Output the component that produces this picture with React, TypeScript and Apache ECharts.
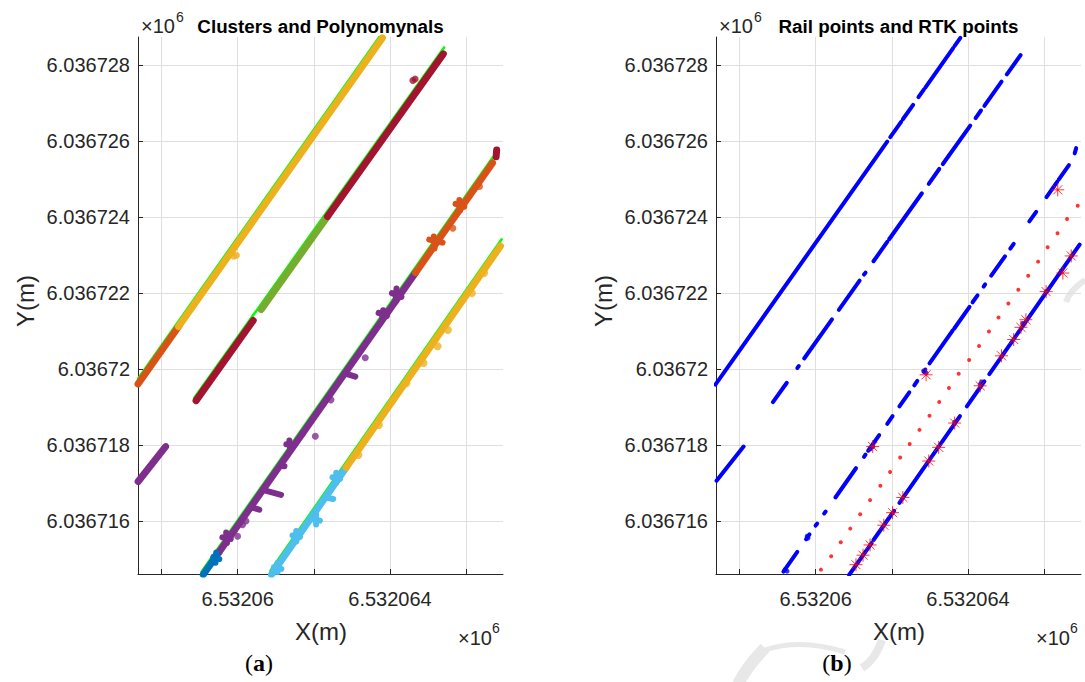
import React, { useEffect, useRef } from "react";
import * as echarts from "echarts";

// Coordinate bases (metres); all data below are offsets from these
const X0 = 6532000;
const Y0 = 6036700;

const X_MIN = 57.386;
const X_MAX = 66.966;
const Y_MIN = 14.605;
const Y_MAX = 28.745;
const X_TICKS = [58, 60, 62, 64, 66];
const X_LABELS = [60, 64];
const Y_TICKS = [16, 18, 20, 22, 24, 26, 28];

// ---------- Panel (a): clusters ----------
const clusterA1 = [[57.386, 19.61], [58.47, 21.15]]; // orange
const clusterA2 = [[58.45, 21.12], [63.8, 28.72]]; // yellow
const clusterS = [[57.39, 17.04], [58.11, 17.96]]; // purple short
const clusterB1 = [[58.91, 19.17], [60.41, 21.28]]; // maroon
const clusterB2 = [[60.62, 21.57], [62.36, 24.02]]; // olive
const clusterB3 = [[62.36, 24.02], [65.4, 28.3]]; // maroon
const clusterC1 = [[59.1, 14.59], [59.52, 15.19]]; // blue
const clusterC2 = [[59.52, 15.19], [64.67, 22.54]]; // purple
const clusterC3 = [[64.67, 22.54], [66.69, 25.43]]; // orange
const clusterC4 = [[66.785, 25.59], [66.8, 25.77]]; // maroon blob
const clusterD1 = [[60.89, 14.59], [62.85, 17.41]]; // light blue
const clusterD2 = [[62.85, 17.41], [66.9, 23.24]]; // yellow

// short strokes (arms of the cross / T shaped outliers)
const armsPurple = [
  [[59.6, 15.57], [59.82, 15.53]],
  [[59.7, 15.7], [59.72, 15.42]],
  [[60.36, 16.36], [60.57, 16.3]],
  [[60.66, 16.82], [61.14, 16.69]],
  [[61.11, 17.46], [61.23, 17.44]],
  [[61.28, 18.02], [61.46, 18.0]],
  [[61.36, 18.12], [61.38, 17.9]],
  [[62.81, 19.89], [63.09, 19.8]],
  [[63.7, 21.48], [63.92, 21.4]],
  [[63.82, 21.55], [63.8, 21.32]],
  [[64.05, 22.0], [64.3, 21.9]],
  [[64.17, 22.12], [64.15, 21.78]],
];
const armsOrangeC = [
  [[65.03, 23.41], [65.38, 23.33]],
  [[65.15, 23.49], [65.17, 23.18]],
  [[65.72, 24.35], [65.95, 24.28]],
  [[65.82, 24.45], [65.84, 24.18]],
];
const armsCyan = [
  [[60.95, 14.78], [61.15, 14.74]],
  [[61.05, 14.9], [61.05, 14.66]],
  [[61.44, 15.62], [61.64, 15.58]],
  [[61.54, 15.74], [61.54, 15.46]],
  [[61.96, 16.05], [62.16, 16.01]],
  [[62.06, 16.17], [62.06, 15.91]],
  [[62.31, 16.62], [62.51, 16.58]],
  [[62.49, 17.15], [62.69, 17.11]],
  [[62.59, 17.27], [62.59, 17.01]],
];
const armsBlue = [
  [[59.36, 15.05], [59.52, 15.0]],
  [[59.44, 15.17], [59.42, 14.9]],
];

const bumpsYellowA = [[59.9, 22.97], [59.97, 23.0]];
const bumpsMaroon = [[64.66, 27.64], [64.6, 27.6], [62.72, 24.54]];
const bumpsPurple = [
  [60.13, 15.9], [60.22, 16.0], [62.04, 18.23], [62.45, 19.19], [63.35, 20.3],
  [60.0, 15.6], [61.7, 18.3],
];
const bumpsOrangeC = [[65.65, 23.71], [66.35, 24.81]];
const bumpsYellowD = [
  [63.17, 17.74], [63.71, 18.53], [64.07, 19.19], [64.43, 19.63], [64.88, 20.16],
  [65.25, 20.6], [65.52, 21.03], [66.15, 22.0], [66.47, 22.53],
];

// fitted polynomials
const polyA = [[57.386, 19.75], [63.8, 28.86]];
const polyS = [[57.386, 17.0], [58.14, 18.02]];
const polyB = [[58.86, 19.24], [65.42, 28.47]];
const polyC = [[59.05, 14.66], [66.7, 25.58]];
const polyD = [[60.86, 14.69], [66.93, 23.42]];

// ---------- Panel (b): rail points and RTK points ----------
const railA = [
  [[57.37, 19.59], [61.88, 25.99]],
  [[61.96, 26.11], [62.245, 26.51]],
  [[62.29, 26.58], [62.56, 26.96]],
  [[62.7, 27.16], [62.84, 27.36]],
  [[62.88, 27.41], [63.61, 28.45]],
  [[63.65, 28.51], [63.8, 28.72]],
];
const railS = [[[57.4, 17.06], [58.11, 17.96]]];
const railB = [
  [[58.88, 19.13], [59.245, 19.64]],
  [[59.52, 20.03], [59.56, 20.08]],
  [[59.7, 20.28], [60.43, 21.31]],
  [[60.61, 21.56], [61.155, 22.33]],
  [[61.27, 22.49], [61.31, 22.54]],
  [[61.52, 22.84], [61.88, 23.35]],
  [[61.93, 23.42], [62.79, 24.63]],
  [[62.97, 24.88], [63.245, 25.27]],
  [[63.34, 25.4], [64.06, 26.41]],
  [[64.2, 26.61], [64.34, 26.81]],
  [[64.43, 26.93], [64.88, 27.57]],
  [[65.02, 27.76], [65.38, 28.27]],
];
const railC = [
  [[59.155, 14.67], [59.52, 15.19]],
  [[59.75, 15.52], [59.84, 15.65]],
  [[60.0, 15.88], [60.04, 15.93]],
  [[60.225, 16.2], [60.265, 16.25]],
  [[60.52, 16.62], [61.06, 17.39]],
  [[61.27, 17.69], [61.31, 17.75]],
  [[61.38, 17.85], [61.67, 18.26]],
  [[61.88, 18.56], [62.02, 18.76]],
  [[62.2, 19.02], [62.46, 19.39]],
  [[62.59, 19.57], [62.67, 19.69]],
  [[62.84, 19.93], [62.88, 19.99]],
  [[62.99, 20.15], [63.6, 21.02]],
  [[63.64, 21.07], [64.04, 21.64]],
  [[64.12, 21.76], [64.25, 21.94]],
  [[64.41, 22.17], [64.45, 22.23]],
  [[64.61, 22.46], [64.97, 22.97]],
  [[65.11, 23.17], [65.2, 23.3]],
  [[65.61, 23.89], [65.79, 24.14]],
  [[66.06, 24.53], [66.34, 24.93]],
  [[66.38, 24.99], [66.65, 25.37]],
  [[66.8, 25.68], [66.84, 25.82]],
];
const railD = [
  [[60.88, 14.58], [61.47, 15.42]],
  [[61.52, 15.5], [62.06, 16.27]],
  [[62.2, 16.48], [63.79, 18.76]],
  [[63.97, 19.02], [64.43, 19.68]],
  [[64.56, 19.87], [66.93, 23.28]],
];
const railBumps = [
  [61.5, 17.96], [61.44, 17.9], [62.9, 19.9], [62.84, 19.95], [63.65, 18.6],
  [64.32, 19.6], [64.36, 19.66], [65.44, 21.2], [66.05, 22.04], [59.2, 14.72],
  [59.25, 14.68], [59.8, 15.55], [59.78, 15.6],
];
const rtkStars = [
  [61.06, 14.85], [61.245, 15.1], [61.43, 15.37], [61.79, 15.89], [62.02, 16.22],
  [62.29, 16.62], [62.97, 17.58], [63.23, 17.94], [63.65, 18.58], [64.32, 19.56],
  [64.88, 20.35], [65.2, 20.78], [65.39, 21.1], [65.52, 21.3], [66.05, 22.04],
  [66.49, 22.53], [66.71, 22.98], [61.5, 17.96], [62.9, 19.85], [66.355, 24.72],
];
const rtkDots = [
  [60.14, 14.72], [60.41, 15.07], [60.66, 15.44], [60.91, 15.8], [61.17, 16.18],
  [61.43, 16.55], [61.7, 16.93], [61.955, 17.29], [62.22, 17.67], [62.47, 18.03],
  [62.727, 18.4], [62.99, 18.77], [63.245, 19.135], [63.5, 19.5], [63.755, 19.88],
  [64.03, 20.24], [64.29, 20.61], [64.55, 20.99], [64.8, 21.36], [65.06, 21.73],
  [65.32, 22.09], [65.58, 22.46], [65.84, 22.83], [66.09, 23.21], [66.35, 23.58],
  [66.6, 23.95], [66.88, 24.3],
];

const C = {
  blue: "#0072BD",
  orange: "#D95319",
  yellow: "#EDB120",
  purple: "#7E2F8E",
  olive: "#77AC30",
  cyan: "#4DBEEE",
  maroon: "#A2142F",
  poly: "#00FF00",
  rail: "#0000FF",
  rtk: "#FF0000",
  axis: "#262626",
  grid: "#dfdfdf",
  mark: "#e8e8e8",
};

const toXY = (pts: number[][]) => pts.map(([x, y]) => [X0 + x, Y0 + y]);

const fmt = (v: number) => String(parseFloat((v / 1e6).toFixed(6)));

function band(data: number[][], color: string, width: number, gi: number, z = 3) {
  return {
    type: "line",
    xAxisIndex: gi,
    yAxisIndex: gi,
    data: toXY(data),
    symbol: "none",
    showSymbol: false,
    silent: true,
    clip: true,
    z,
    lineStyle: { color, width, cap: "round", join: "round" },
  };
}

function dots(data: number[][], color: string, size: number, gi: number, z = 4, symbol = "circle") {
  return {
    type: "scatter",
    xAxisIndex: gi,
    yAxisIndex: gi,
    data: toXY(data),
    symbol,
    symbolSize: size,
    silent: true,
    clip: true,
    z,
    itemStyle: { color },
  };
}

const STAR = "path://M5 0L5 10M0 5L10 5M1.5 1.5L8.5 8.5M8.5 1.5L1.5 8.5";

function xAxis(gi: number) {
  return {
    type: "value",
    gridIndex: gi,
    min: X0 + X_MIN,
    max: X0 + X_MAX,
    axisLine: { show: true, onZero: false, lineStyle: { color: C.axis, width: 1 } },
    axisTick: {
      show: true,
      inside: true,
      length: 5,
      customValues: X_TICKS.map((v) => X0 + v),
      lineStyle: { color: C.axis, width: 1 },
    },
    axisLabel: {
      customValues: X_LABELS.map((v) => X0 + v),
      formatter: fmt,
      fontSize: 20,
      fontFamily: "Liberation Sans",
      color: C.axis,
      margin: 15,
    },
    splitLine: { show: true, lineStyle: { color: C.grid, width: 1 } },
  };
}

function yAxis(gi: number) {
  return {
    type: "value",
    gridIndex: gi,
    min: Y0 + Y_MIN,
    max: Y0 + Y_MAX,
    axisLine: { show: true, onZero: false, lineStyle: { color: C.axis, width: 1 } },
    axisTick: {
      show: true,
      inside: true,
      length: 5,
      customValues: Y_TICKS.map((v) => Y0 + v),
      lineStyle: { color: C.axis, width: 1 },
    },
    axisLabel: {
      customValues: Y_TICKS.map((v) => Y0 + v),
      formatter: fmt,
      fontSize: 20,
      fontFamily: "Liberation Sans",
      color: C.axis,
      margin: 8,
    },
    splitLine: { show: true, lineStyle: { color: C.grid, width: 1 } },
  };
}

function panelTexts(dx: number, title: string, tag: string) {
  const font = "Liberation Sans";
  return [
    { type: "text", x: 141 + dx, y: 26, style: { text: "×10", fontSize: 20, fontFamily: font, fill: C.axis, textVerticalAlign: "middle" } },
    { type: "text", x: 176 + dx, y: 17, style: { text: "6", fontSize: 14, fontFamily: font, fill: C.axis, textVerticalAlign: "middle" } },
    { type: "text", x: 320.5 + dx, y: 26, style: { text: title, fontSize: 18.8, fontWeight: "bold", fontFamily: font, fill: "#000", textAlign: "center", textVerticalAlign: "middle" } },
    { type: "text", x: 492 + dx, y: 638, style: { text: "×10", fontSize: 20, fontFamily: font, fill: C.axis, textAlign: "right", textVerticalAlign: "middle" } },
    { type: "text", x: 492 + dx, y: 628, style: { text: "6", fontSize: 14, fontFamily: font, fill: C.axis, textVerticalAlign: "middle" } },
    { type: "text", x: 321 + dx, y: 631, style: { text: "X(m)", fontSize: 24, fontFamily: font, fill: C.axis, textAlign: "center", textVerticalAlign: "middle" } },
    { type: "text", x: 25 + dx, y: 301, rotation: Math.PI / 2, style: { text: "Y(m)", fontSize: 24, fontFamily: font, fill: C.axis, textAlign: "center", textVerticalAlign: "middle" } },
    {
      type: "text",
      x: 259 + dx,
      y: 663,
      z: 10,
      style: {
        text: "{p|(}{b|" + tag + "}{p|)}",
        textAlign: "center",
        textVerticalAlign: "middle",
        rich: {
          p: { fontSize: 24, fontFamily: "Liberation Serif", fill: "#000" },
          b: { fontSize: 24, fontFamily: "Liberation Serif", fontWeight: "bold", fill: "#000" },
        },
      },
    },
  ];
}

// faint watermark strokes (decoration of the page)
const watermark = [
  { type: "bezierCurve", z: -1, shape: { x1: 738, y1: 684, cpx1: 748, cpy1: 665, x2: 765, y2: 648 }, style: { stroke: C.mark, lineWidth: 12, fill: "none" } },
  { type: "bezierCurve", z: -1, shape: { x1: 765, y1: 650, cpx1: 800, cpy1: 638, x2: 845, y2: 652 }, style: { stroke: C.mark, lineWidth: 5, fill: "none" } },
  { type: "bezierCurve", z: -1, shape: { x1: 862, y1: 668, cpx1: 875, cpy1: 660, x2: 882, y2: 640 }, style: { stroke: C.mark, lineWidth: 8, fill: "none" } },
  { type: "bezierCurve", z: -1, shape: { x1: 1066, y1: 302, cpx1: 1070, cpy1: 290, x2: 1085, y2: 280 }, style: { stroke: C.mark, lineWidth: 6, fill: "none" } },
];

export default function App() {
  const ref = useRef<HTMLDivElement>(null);
  useEffect(() => {
    if (!ref.current) return;
    const chart = echarts.init(ref.current, undefined, { renderer: "svg" });

    const series: any[] = [];
    // Panel (a): polynomials beneath clusters
    [polyA, polyS, polyB, polyC, polyD].forEach((p) => series.push(band(p, C.poly, 2.5, 0, 2)));
    series.push(band(clusterA1, C.orange, 7, 0));
    series.push(band(clusterA2, C.yellow, 7, 0));
    series.push(band(clusterS, C.purple, 7, 0));
    series.push(band(clusterB1, C.maroon, 7, 0));
    series.push(band(clusterB2, C.olive, 7, 0));
    series.push(band(clusterB3, C.maroon, 7, 0));
    series.push(band(clusterC1, C.blue, 7, 0));
    series.push(band(clusterC2, C.purple, 7, 0));
    series.push(band(clusterC3, C.orange, 7, 0));
    series.push(band(clusterC4, C.maroon, 7, 0));
    series.push(band(clusterD1, C.cyan, 7, 0));
    series.push(band(clusterD2, C.yellow, 7, 0));
    armsPurple.forEach((s) => series.push(band(s, C.purple, 6, 0, 4)));
    armsOrangeC.forEach((s) => series.push(band(s, C.orange, 6, 0, 4)));
    armsCyan.forEach((s) => series.push(band(s, C.cyan, 6, 0, 4)));
    armsBlue.forEach((s) => series.push(band(s, C.blue, 6, 0, 4)));
    series.push(dots(bumpsYellowA, C.yellow, 7, 0));
    series.push(dots(bumpsMaroon, C.maroon, 7, 0));
    series.push(dots(bumpsPurple, C.purple, 7, 0));
    series.push(dots(bumpsOrangeC, C.orange, 7, 0));
    series.push(dots(bumpsYellowD, C.yellow, 8, 0));

    // Panel (b)
    [railA, railS, railB, railC, railD].forEach((rail) =>
      rail.forEach((seg) => series.push(band(seg, C.rail, 4, 1)))
    );
    series.push(dots(railBumps, C.rail, 5, 1));
    series.push(dots(rtkDots, C.rtk, 4, 1, 5));
    series.push({
      type: "scatter",
      xAxisIndex: 1,
      yAxisIndex: 1,
      data: toXY(rtkStars),
      symbol: STAR,
      symbolSize: 13,
      silent: true,
      clip: true,
      z: 6,
      itemStyle: { color: "rgba(0,0,0,0)", borderColor: C.rtk, borderWidth: 1 },
    });

    chart.setOption({
      animation: false,
      backgroundColor: "#ffffff",
      grid: [
        { left: 138, top: 37, width: 365, height: 537 },
        { left: 716, top: 37, width: 365, height: 537 },
      ],
      xAxis: [xAxis(0), xAxis(1)],
      yAxis: [yAxis(0), yAxis(1)],
      series,
      graphic: [
        ...watermark,
        ...panelTexts(0, "Clusters and Polynomynals", "a"),
        ...panelTexts(578, "Rail points and RTK points", "b"),
      ],
    });
    return () => chart.dispose();
  }, []);
  return (
    <div
      ref={ref}
      style={{ position: "fixed", left: 0, top: 0, width: 1085, height: 682, background: "#fff" }}
    />
  );
}
